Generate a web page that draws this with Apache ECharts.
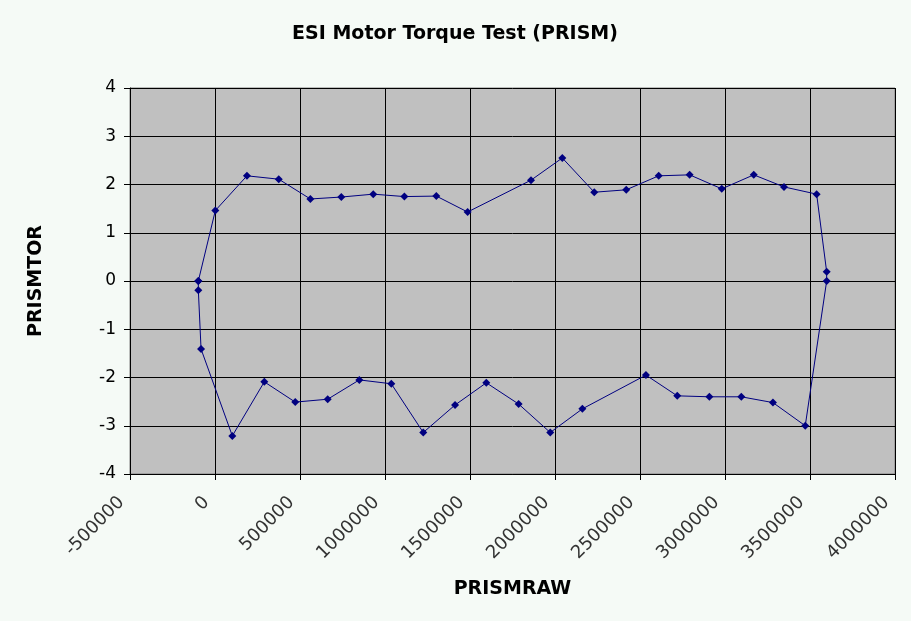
<!DOCTYPE html>
<html>
<head>
<meta charset="utf-8">
<script src="https://cdn.jsdelivr.net/npm/echarts@6/dist/echarts.min.js"></script>
<style>
html,body{margin:0;padding:0;background:#F5FAF6;}
#c{width:911px;height:621px;}
</style>
</head>
<body>
<div id="c"></div>
<script>
var title = 'ESI Motor Torque Test (PRISM)';
var xName = 'PRISMRAW';
var yName = 'PRISMTOR';
var prismRaw = [-98000, 2000, 188000, 375000, 561000, 743000, 931000, 1114000, 1302000, 1486000,
  1859000, 2043000, 2231000, 2419000, 2610000, 2792000, 2981000, 3169000, 3347000, 3539000,
  3598000, 3598000, 3472000, 3282000, 3096000, 2908000, 2719000, 2535000, 2161000, 1972000,
  1786000, 1596000, 1412000, 1225000, 1037000, 849000, 663000, 472000, 290000, 102000,
  -82000, -98000, -98000];
var prismTor = [0, 1.46, 2.18, 2.11, 1.70, 1.74, 1.80, 1.75, 1.76, 1.43,
  2.09, 2.55, 1.84, 1.89, 2.18, 2.20, 1.91, 2.20, 1.95, 1.80,
  0.19, 0, -3.00, -2.52, -2.40, -2.40, -2.38, -1.95, -2.65, -3.14,
  -2.55, -2.11, -2.57, -3.14, -2.13, -2.05, -2.45, -2.51, -2.09, -3.21,
  -1.41, -0.19, 0];
var data = prismRaw.map(function (x, i) { return [x, prismTor[i]]; });

var chart = echarts.init(document.getElementById('c'), null, {renderer: 'canvas'});
var font = 'DejaVu Sans, Verdana, sans-serif';
chart.setOption({
  backgroundColor: '#F5FAF6',
  animation: false,
  title: {
    text: title, left: 450, top: 20, textAlign: 'center',
    textStyle: {fontFamily: font, fontWeight: 'bold', fontSize: 19, color: '#000'}
  },
  grid: {left: 130, right: 16, top: 88, bottom: 147, show: true, backgroundColor: '#C0C0C0', borderColor: '#808080', borderWidth: 1},
  xAxis: {
    type: 'value', min: -500000, max: 4000000, interval: 500000,
    name: xName, nameLocation: 'middle', nameGap: 106,
    nameTextStyle: {fontFamily: font, fontWeight: 'bold', fontSize: 19, color: '#000'},
    axisLine: {show: true, onZero: false, lineStyle: {color: '#000', width: 1}},
    axisTick: {show: true, length: 6, lineStyle: {color: '#000'}},
    axisLabel: {rotate: 45, fontFamily: font, fontSize: 18, color: '#333', margin: 17,
      padding: [0, 12, 0, 0],
      formatter: function (v) { return String(v); }},
    splitLine: {show: true, lineStyle: {color: '#000', width: 1}}
  },
  yAxis: {
    type: 'value', min: -4, max: 4, interval: 1,
    name: yName, nameLocation: 'middle', nameGap: 84,
    nameTextStyle: {fontFamily: font, fontWeight: 'bold', fontSize: 19, color: '#000'},
    axisLine: {show: true, onZero: false, lineStyle: {color: '#000', width: 1}},
    axisTick: {show: true, length: 6, lineStyle: {color: '#000'}},
    axisLabel: {fontFamily: font, fontSize: 17, color: '#000', margin: 14},
    splitLine: {show: true, lineStyle: {color: '#000', width: 1}}
  },
  series: [{
    type: 'line', data: data,
    symbol: 'diamond', symbolSize: 8, showSymbol: true,
    lineStyle: {color: '#000080', width: 1},
    itemStyle: {color: '#000080'}
  }]
});
</script>
</body>
</html>
